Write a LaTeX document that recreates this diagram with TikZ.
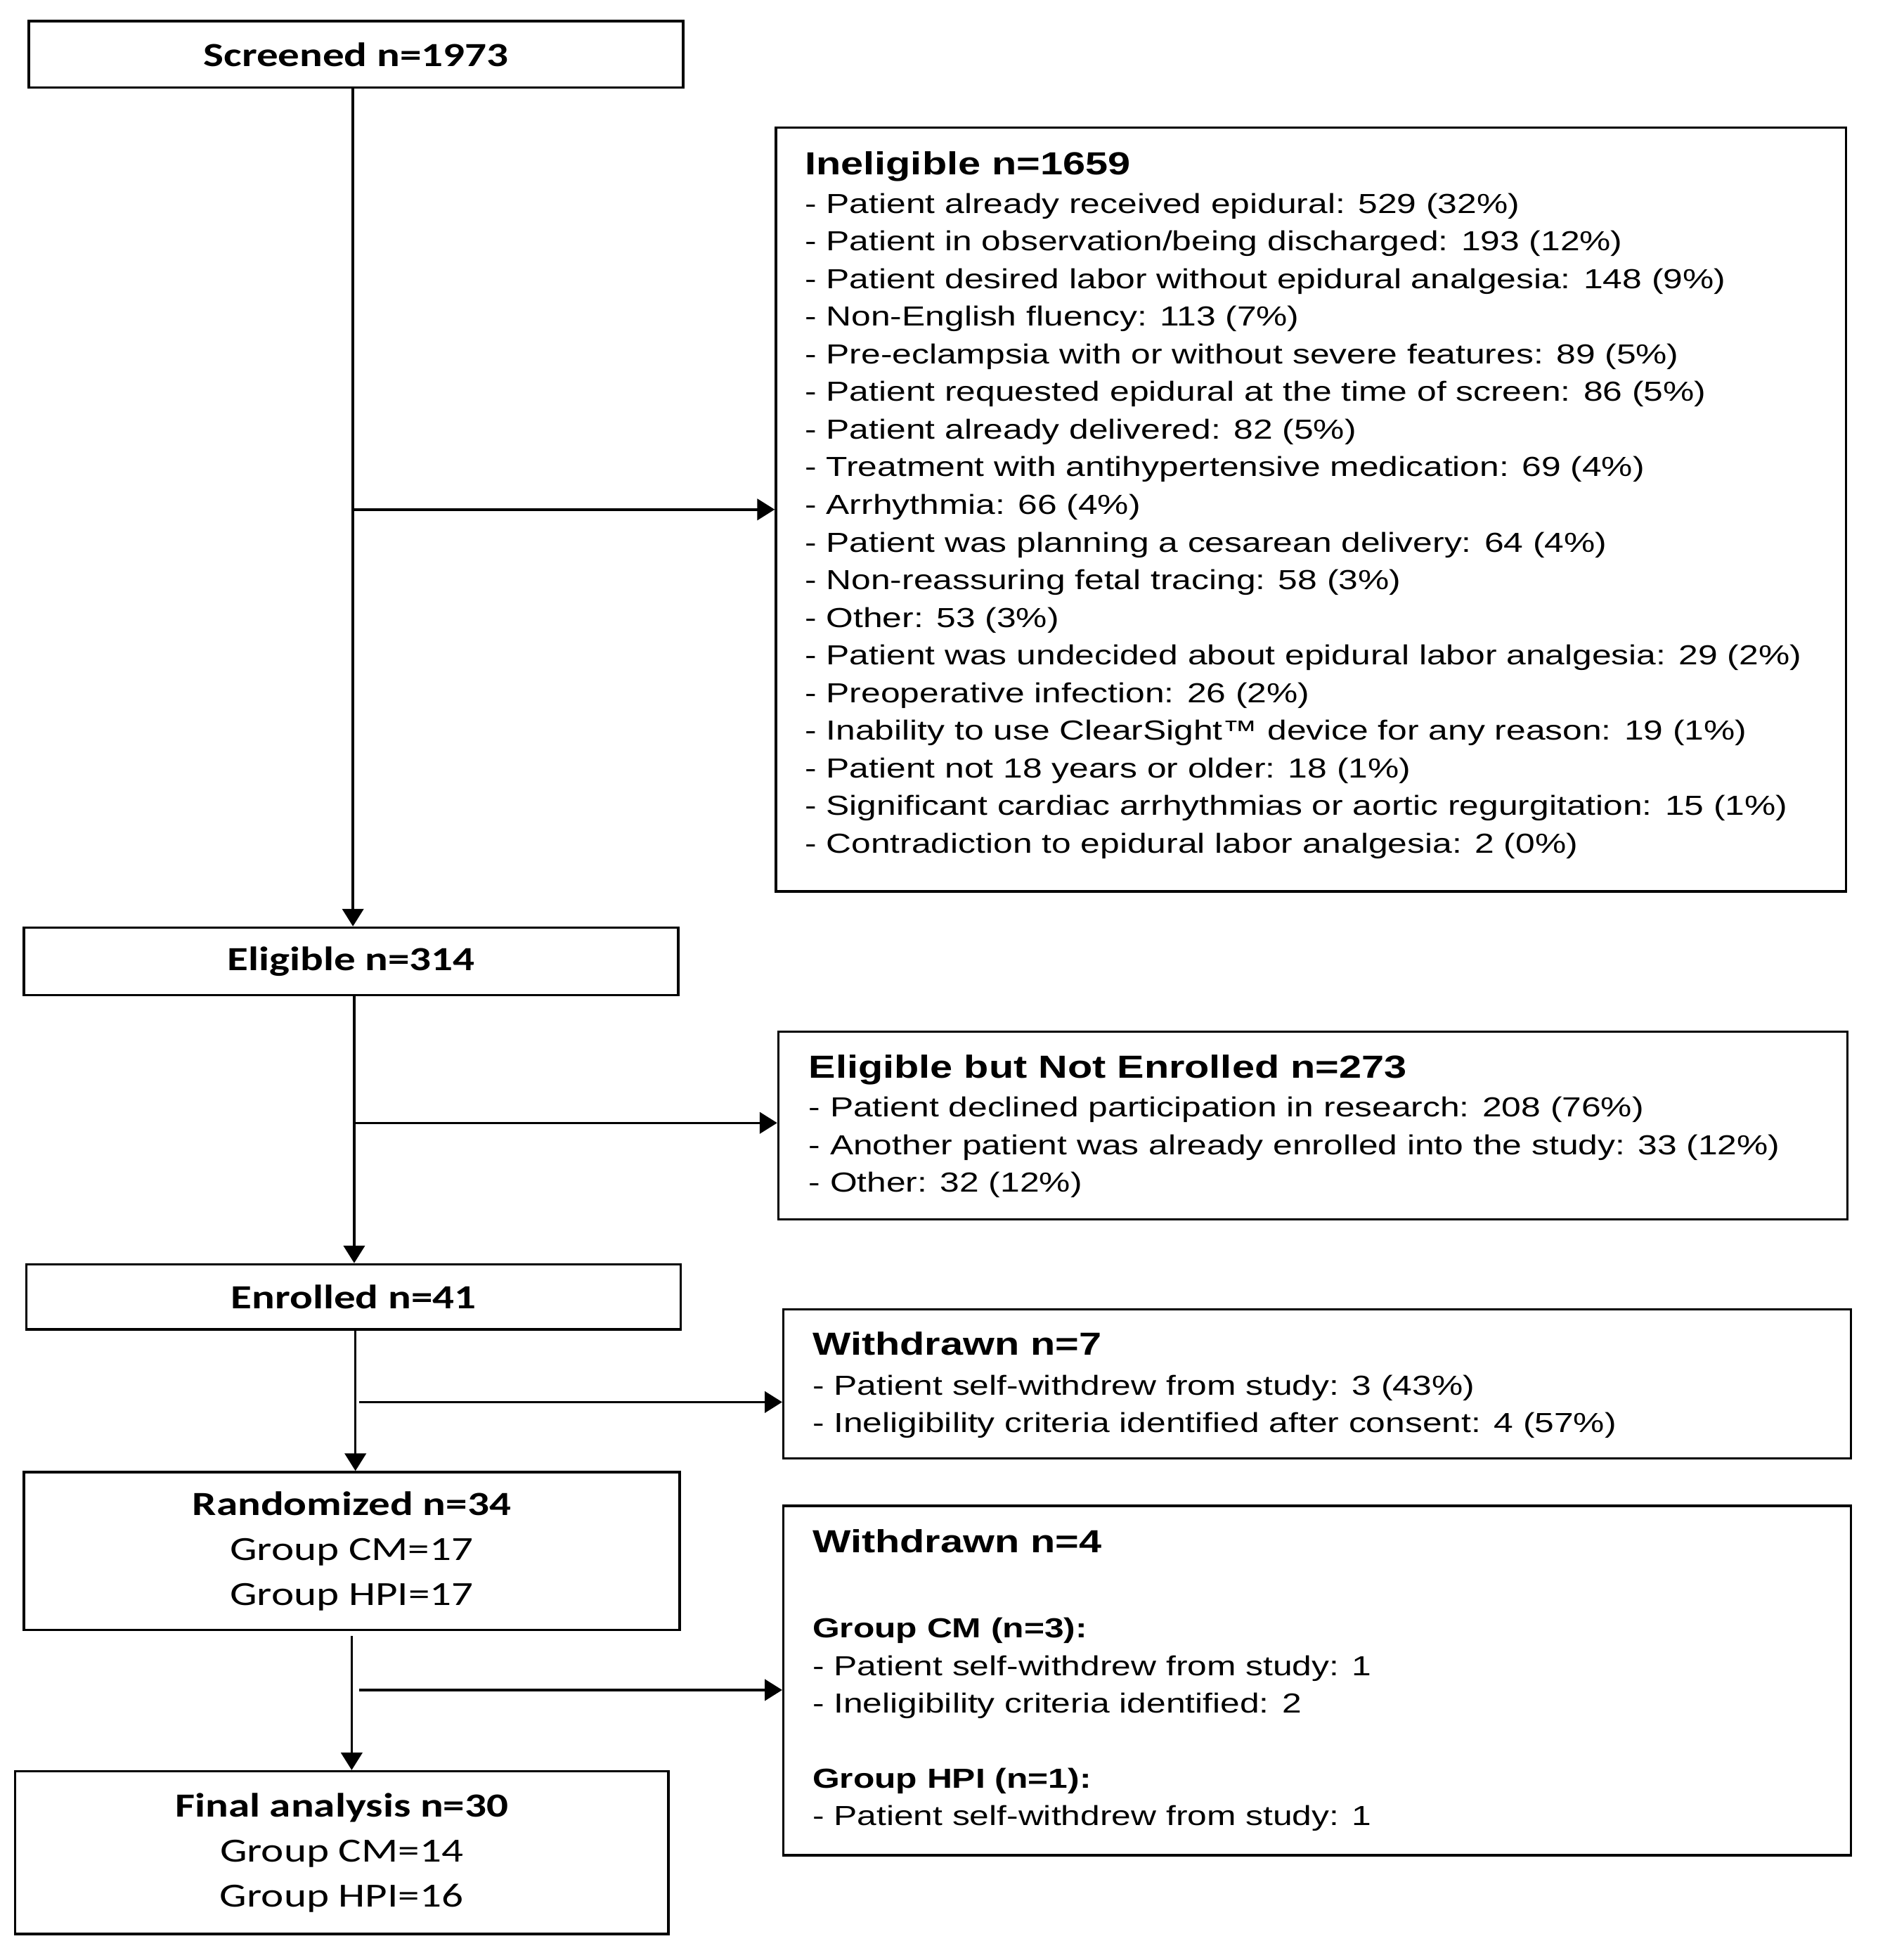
\documentclass[tikz,border=0pt]{standalone}
\usepackage{fontspec}
\newfontfamily\leftf{Carlito}[FakeStretch=1.27]
\newfontfamily\rightf{Liberation Sans}[FakeStretch=1.27]
\usetikzlibrary{arrows.meta}
\begin{document}
\begin{tikzpicture}[x=1pt,y=-1pt,
  box/.style={draw, line width=2pt, inner sep=0pt, rectangle},
  lbox/.style={box, font=\leftf\fontsize{27}{36}\selectfont, align=center},
  arr/.style={line width=2pt, -{Triangle[length=14pt,width=17pt]}},
  rhead/.style={anchor=base west, inner sep=0pt, font=\rightf\bfseries\fontsize{25.5}{30}\selectfont},
  rbody/.style={anchor=base west, inner sep=0pt, font=\rightf\fontsize{22}{30}\selectfont},
  rsub/.style={anchor=base west, inner sep=0pt, font=\rightf\bfseries\fontsize{22}{30}\selectfont}]
\useasboundingbox[fill=white] (0,0) rectangle (1500,1565.7);

% left column
\node[lbox, minimum width=523pt, minimum height=53pt] (screen) at (284.5,43.5) {\textbf{Screened n=1973}};
\node[lbox, minimum width=523pt, minimum height=54pt] (elig) at (280.5,768) {\textbf{Eligible n=314}};
\node[lbox, minimum width=523pt, minimum height=52pt] (enrol) at (282.5,1036) {\textbf{Enrolled n=41}};
\node[lbox, minimum width=524pt, minimum height=126pt] (rand) at (281,1239) {\textbf{Randomized n=34}\\Group CM=17\\Group HPI=17};
\node[lbox, minimum width=522pt, minimum height=130pt] (final) at (273,1480) {\textbf{Final analysis n=30}\\Group CM=14\\Group HPI=16};

% right column boxes
\node[box, minimum width=855pt, minimum height=610pt] (inel) at (1047.5,407) {};
\node[box, minimum width=854pt, minimum height=150pt] (notenr) at (1049,899) {};
\node[box, minimum width=853pt, minimum height=119pt] (wd7) at (1052.5,1105.5) {};
\node[box, minimum width=853pt, minimum height=279pt] (wd4) at (1052.5,1342.5) {};

% Ineligible
\node[rhead] (inel-h) at (643,139.4) {Ineligible n=1659};
\foreach \t [count=\i] in {
- Patient already received epidural: 529 (32\%),
- Patient in observation/being discharged: 193 (12\%),
- Patient desired labor without epidural analgesia: 148 (9\%),
- Non-English fluency: 113 (7\%),
- Pre-eclampsia with or without severe features: 89 (5\%),
- Patient requested epidural at the time of screen: 86 (5\%),
- Patient already delivered: 82 (5\%),
- Treatment with antihypertensive medication: 69 (4\%),
- Arrhythmia: 66 (4\%),
- Patient was planning a cesarean delivery: 64 (4\%),
- Non-reassuring fetal tracing: 58 (3\%),
- Other: 53 (3\%),
- Patient was undecided about epidural labor analgesia: 29 (2\%),
- Preoperative infection: 26 (2\%),
- Inability to use ClearSight™ device for any reason: 19 (1\%),
- Patient not 18 years or older: 18 (1\%),
- Significant cardiac arrhythmias or aortic regurgitation: 15 (1\%),
- Contradiction to epidural labor analgesia: 2 (0\%)}
  \node[rbody] (inel-\i) at (643,{170.3+30.06*(\i-1)}) {\t};

% Eligible but not enrolled
\node[rhead] (ne-h) at (646,861.4) {Eligible but Not Enrolled n=273};
\node[rbody] (ne-1) at (646,892.3) {- Patient declined participation in research: 208 (76\%)};
\node[rbody] (ne-2) at (646,922.3) {- Another patient was already enrolled into the study: 33 (12\%)};
\node[rbody] (ne-3) at (646,952.3) {- Other: 32 (12\%)};

% Withdrawn 7
\node[rhead] (w7-h) at (649,1082.4) {Withdrawn n=7};
\node[rbody] (w7-1) at (649,1114.3) {- Patient self-withdrew from study: 3 (43\%)};
\node[rbody] (w7-2) at (649,1144.3) {- Ineligibility criteria identified after consent: 4 (57\%)};

% Withdrawn 4
\node[rhead] (w4-h) at (649,1240.4) {Withdrawn n=4};
\node[rsub] (w4-s1) at (649,1308.3) {Group CM (n=3):};
\node[rbody] (w4-1) at (649,1338.3) {- Patient self-withdrew from study: 1};
\node[rbody] (w4-2) at (649,1368.3) {- Ineligibility criteria identified: 2};
\node[rsub] (w4-s2) at (649,1428.3) {Group HPI (n=1):};
\node[rbody] (w4-3) at (649,1458.3) {- Patient self-withdrew from study: 1};

% connectors
\draw[arr] ([xshift=-2.5pt]screen.south) -- ([xshift=1.5pt]elig.north);
\coordinate (b1) at (282,407);
\draw[arr] (b1) -- (b1 -| inel.west);

\draw[arr] ([xshift=2.5pt]elig.south) -- ([xshift=0.5pt]enrol.north);
\coordinate (b2) at (283,897);
\draw[arr] (b2) -- (b2 -| notenr.west);

\draw[arr] ([xshift=1.5pt]enrol.south) -- ([xshift=3pt]rand.north);
\coordinate (b3) at (287,1120);
\draw[arr] (b3) -- (b3 -| wd7.west);

\draw[arr, shorten <=4pt] (rand.south) -- ([xshift=8pt]final.north);
\coordinate (b4) at (287,1350);
\draw[arr] (b4) -- (b4 -| wd4.west);
\end{tikzpicture}
\end{document}
